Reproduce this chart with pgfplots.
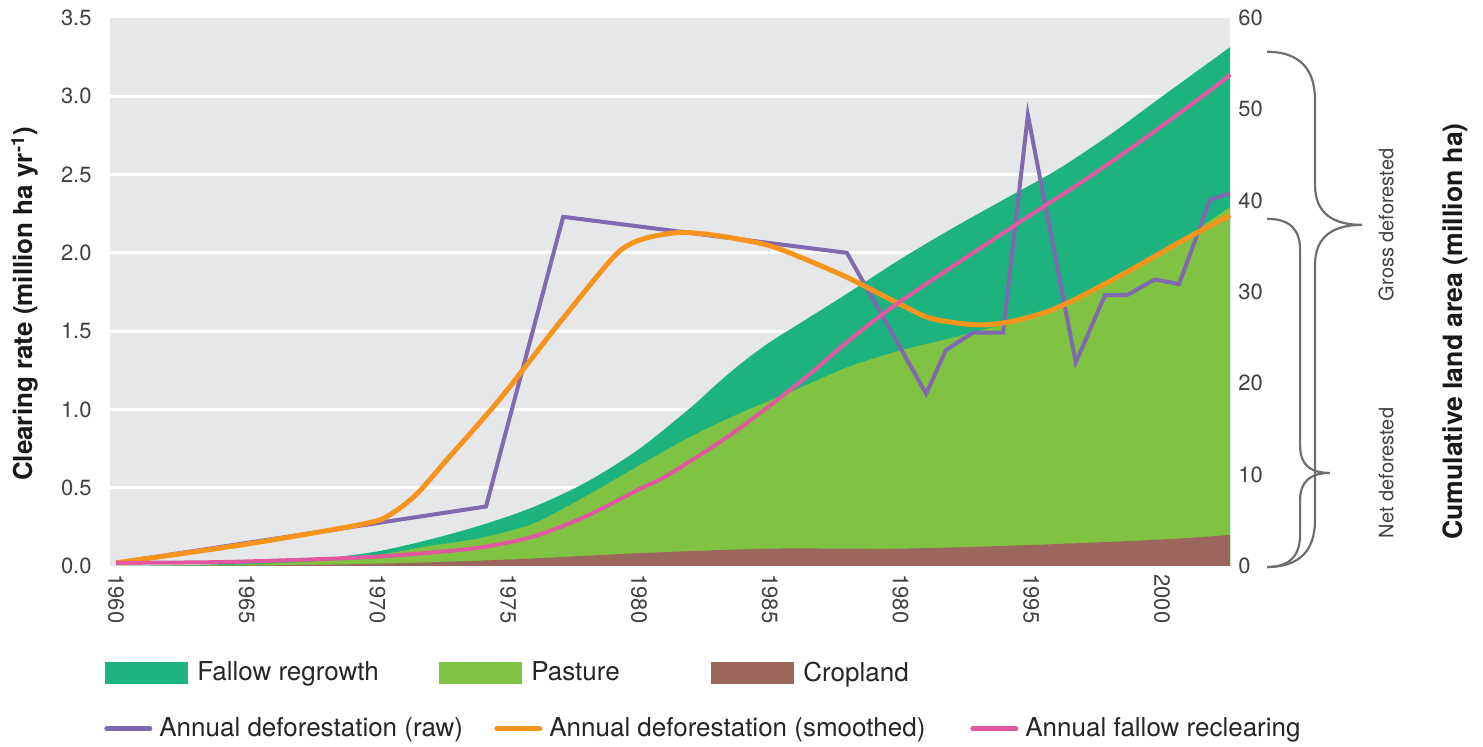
\documentclass[border=0pt]{standalone}
\usepackage{pgfplots}
\pgfplotsset{compat=1.18}
\usepackage{fontspec}
\setmainfont{TeX Gyre Heros}

\definecolor{bgray}{HTML}{E6E7E8}
\definecolor{fallow}{HTML}{1CB37F}
\definecolor{pasture}{HTML}{80C241}
\definecolor{crop}{HTML}{9B665C}
\definecolor{rawc}{HTML}{8069B0}
\definecolor{smoothc}{HTML}{F7941D}
\definecolor{reclear}{HTML}{E0589E}
\definecolor{bracec}{HTML}{6D6E71}
\definecolor{txt}{HTML}{414042}

\begin{document}
\begin{tikzpicture}
% 1 px of the reference = 0.5pt; origin at the lower left corner of the plot area
\useasboundingbox (-55pt,-90.5pt) rectangle (686.5pt,283pt);
\pgfplotsset{
  base/.style={
    width=560pt, height=274pt, scale only axis,
    at={(0,0)}, anchor=south west,
    xmin=1959.77, xmax=2002.6,
    axis line style={draw=none}, major tick length=0pt,
    tick label style={font=\fontsize{11}{13}\selectfont, text=txt},
    /pgf/number format/assume math mode=true,
    legend style={draw=none, fill=none, inner sep=0pt, nodes={inner sep=0pt},
      font=\fontsize{13}{15}\selectfont, text=black!85},
    legend columns=3,
    legend cell align=left,
    clip=false,
  }
}

% cumulative areas (right axis)
\begin{axis}[base,
  axis background/.style={fill=bgray},
  ymin=0, ymax=60, ytick={0,10,...,60}, yticklabel pos=right,
  y tick label style={anchor=west, inner sep=0pt, inner xsep=4pt},
  extra y ticks={8.5714,17.1429,25.7143,34.2857,42.8571,51.4286},
  extra y tick labels={},
  extra y tick style={grid=major},
  major grid style={white, line width=1.5pt},
  xtick={1960,1965,...,2000},
  xticklabels={1960,1965,1970,1975,1980,1985,1980,1995,2000},
  x tick label style={rotate=-90, anchor=west, inner sep=0pt, inner xsep=4pt},
  ylabel={Cumulative land area (million ha)},
  ylabel style={at={(axis description cs:1.2009,0.428)}, anchor=center,
    font=\bfseries\fontsize{13.3}{15}\selectfont, text=black!90},
  legend style={at={(axis description cs:-0.0045,-0.1953)}, anchor=west,
    /tikz/every odd column/.append style={column sep=4.5pt}},
  legend image code/.code={\fill[#1] (0pt,-5.5pt) rectangle (41.5pt,5.5pt);},
]
% gross deforested (fallow on top)
\addplot[fill=fallow, draw=none, smooth, tension=0.5] coordinates {
  (1960,0) (1962,0.05) (1964,0.2) (1966,0.45) (1968,0.85) (1970,1.6)
  (1972,2.9) (1974,4.5) (1976,6.5) (1978,9.2) (1980,12.8) (1982,17.4)
  (1983,20.0) (1984,22.4) (1985,24.5) (1986,26.3) (1988,29.9) (1990,33.6)
  (1992,37.0) (1994,40.2) (1996,43.4) (1998,47.2) (2000,51.4) (2002.6,56.8)
} \closedcycle;
\addlegendentry{\makebox[121pt][l]{Fallow regrowth\vphantom{Ag}}}
% net deforested (pasture + cropland)
\addplot[fill=pasture, draw=none, smooth, tension=0.5] coordinates {
  (1960,0) (1964,0.1) (1966,0.3) (1968,0.6) (1970,1.2) (1972,2.2)
  (1974,3.1) (1976,4.7) (1978,7.7) (1980,11.0) (1982,14.2) (1984,16.9)
  (1986,19.3) (1988,21.8) (1990,23.6) (1992,25.0) (1994,26.5) (1996,28.1)
  (1998,31.0) (2000,34.3) (2002.6,39.3)
} \closedcycle;
\addlegendentry{\makebox[90pt][l]{Pasture\vphantom{Ag}}}
\addplot[fill=crop, draw=none, smooth, tension=0.5] coordinates {
  (1960,0) (1965,0.05) (1970,0.25) (1975,0.7) (1980,1.4) (1985,1.9)
  (1990,1.9) (1995,2.3) (2000,2.9) (2002.6,3.4)
} \closedcycle;
\addlegendentry{Cropland\vphantom{Ag}}

% braces
\draw[bracec, line width=1.1pt]
  (axis cs:2004.02,56.30) .. controls (axis cs:2005.28,56.30) and (axis cs:2005.85,54.33)
  .. (axis cs:2005.85,51.04) -- (axis cs:2005.85,41.73)
  .. controls (axis cs:2005.85,38.44) and (axis cs:2006.62,37.35) .. (axis cs:2007.65,37.35)
  .. controls (axis cs:2006.62,37.35) and (axis cs:2005.85,36.25) .. (axis cs:2005.85,32.97)
  -- (axis cs:2005.85,5.04)
  .. controls (axis cs:2005.85,1.75) and (axis cs:2005.28,-0.11) .. (axis cs:2004.02,-0.11);
\draw[bracec, line width=1.1pt]
  (axis cs:2004.02,38.01) .. controls (axis cs:2004.90,38.01) and (axis cs:2005.28,36.80)
  .. (axis cs:2005.28,34.61) -- (axis cs:2005.28,13.25)
  .. controls (axis cs:2005.28,11.06) and (axis cs:2005.66,10.19) .. (axis cs:2006.42,10.19)
  .. controls (axis cs:2005.66,10.19) and (axis cs:2005.28,9.20) .. (axis cs:2005.28,7.23)
  -- (axis cs:2005.28,3.40)
  .. controls (axis cs:2005.28,1.20) and (axis cs:2004.90,-0.11) .. (axis cs:2004.02,-0.11);
\node[rotate=90, font=\fontsize{10}{12}\selectfont, text=txt] at (axis cs:2008.57,37.35) {Gross deforested};
\node[rotate=90, font=\fontsize{10}{12}\selectfont, text=txt] at (axis cs:2008.57,10.19) {Net deforested};
\end{axis}

% clearing rates (left axis)
\begin{axis}[base,
  ymin=0, ymax=3.5, ytick={0,0.5,...,3.5},
  yticklabel style={/pgf/number format/fixed, /pgf/number format/fixed zerofill,
    /pgf/number format/precision=1},
  y tick label style={anchor=east, inner sep=0pt, inner xsep=9pt},
  xtick=\empty,
  ylabel={Clearing rate (million ha yr\textsuperscript{-1})},
  ylabel style={at={(axis description cs:-0.0759,0.478)}, anchor=center,
    font=\bfseries\fontsize{13}{15}\selectfont, text=black!90},
  legend style={at={(axis description cs:-0.0054,-0.297)}, anchor=west,
    /tikz/every odd column/.append style={column sep=3.5pt}},
  legend image code/.code={\draw[#1, line width=2.5pt, line cap=round] (1.25pt,0pt) -- (22.75pt,0pt);},
]
\addplot[rawc, line width=2pt] coordinates {
  (1960,0.02) (1974.15,0.38) (1977.1,2.23) (1987.95,2.0) (1990.98,1.10)
  (1991.74,1.38) (1992.77,1.49) (1993.92,1.49) (1994.87,2.88) (1996.7,1.30)
  (1997.82,1.73) (1998.66,1.73) (1999.73,1.83) (2000.65,1.80) (2001.84,2.34)
  (2002.6,2.38)
};
\addlegendentry{\makebox[167.5pt][l]{Annual deforestation (raw)\vphantom{Ag}}}
\addplot[smoothc, line width=2.5pt, smooth, tension=0.5] coordinates {
  (1960,0.02) (1965,0.14) (1969.5,0.27) (1970.5,0.33)
  (1971.5,0.46) (1972.66,0.68) (1974.7,1.07) (1976.8,1.52) (1978.9,1.95)
  (1979.6,2.05) (1980.4,2.10) (1981.6,2.13) (1983.0,2.11) (1984.9,2.05)
  (1986.2,1.97) (1988.0,1.84) (1990.0,1.67) (1991.2,1.58) (1992.9,1.54)
  (1994.2,1.56) (1995.7,1.63) (1997.0,1.73) (1998.9,1.90) (2000.8,2.08)
  (2002.6,2.24)
};
\addlegendentry{\makebox[210.5pt][l]{Annual deforestation (smoothed)\vphantom{Ag}}}
\addplot[reclear, line width=2pt, smooth, tension=0.5] coordinates {
  (1960,0.02) (1964,0.025) (1968,0.045) (1970,0.06) (1972,0.085) (1974,0.12)
  (1976,0.19) (1978,0.32) (1980,0.49) (1981.1,0.58)
  (1983.6,0.85) (1986.2,1.18) (1988.1,1.45) (1990.0,1.69) (1994.5,2.19)
  (1997.0,2.46) (1999.5,2.75) (2002.1,3.07) (2002.6,3.14)
};
\addlegendentry{Annual fallow reclearing\vphantom{Ag}}
\end{axis}
\end{tikzpicture}
\end{document}
